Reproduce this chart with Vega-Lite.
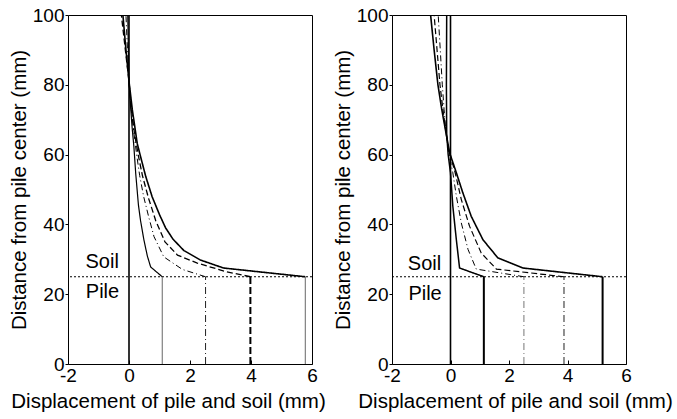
{
  "$schema": "https://vega.github.io/schema/vega-lite/v6.json",
  "autosize": {"type": "pad"},
  "padding": {"left": 8, "top": 5, "right": 0, "bottom": 0},
  "background": "white",
  "bounds": "flush",
  "spacing": 80,
  "datasets": {
    "curves": [
      {"panel": "a", "load": "L0", "part": "pile", "x": 0, "y": 0},
      {"panel": "a", "load": "L0", "part": "pile", "x": 0, "y": 100},

      {"panel": "a", "load": "L1", "part": "pile", "x": 1.09, "y": 0},
      {"panel": "a", "load": "L1", "part": "pile", "x": 1.09, "y": 25},
      {"panel": "a", "load": "L1", "part": "soil", "x": 1.09, "y": 25},
      {"panel": "a", "load": "L1", "part": "soil", "x": 0.71, "y": 27.8},
      {"panel": "a", "load": "L1", "part": "soil", "x": 0.6, "y": 31},
      {"panel": "a", "load": "L1", "part": "soil", "x": 0.49, "y": 35.5},
      {"panel": "a", "load": "L1", "part": "soil", "x": 0.38, "y": 41},
      {"panel": "a", "load": "L1", "part": "soil", "x": 0.31, "y": 45.5},
      {"panel": "a", "load": "L1", "part": "soil", "x": 0.22, "y": 54.6},
      {"panel": "a", "load": "L1", "part": "soil", "x": 0.16, "y": 62.3},
      {"panel": "a", "load": "L1", "part": "soil", "x": 0.1, "y": 68},
      {"panel": "a", "load": "L1", "part": "soil", "x": 0.05, "y": 74},
      {"panel": "a", "load": "L1", "part": "soil", "x": 0, "y": 81},
      {"panel": "a", "load": "L1", "part": "soil", "x": -0.02, "y": 90},
      {"panel": "a", "load": "L1", "part": "soil", "x": -0.04, "y": 100},

      {"panel": "a", "load": "L2", "part": "pile", "x": 2.51, "y": 0},
      {"panel": "a", "load": "L2", "part": "pile", "x": 2.51, "y": 25},
      {"panel": "a", "load": "L2", "part": "soil", "x": 2.51, "y": 25},
      {"panel": "a", "load": "L2", "part": "soil", "x": 1.75, "y": 27.1},
      {"panel": "a", "load": "L2", "part": "soil", "x": 1.14, "y": 30.7},
      {"panel": "a", "load": "L2", "part": "soil", "x": 0.82, "y": 36.5},
      {"panel": "a", "load": "L2", "part": "soil", "x": 0.65, "y": 42},
      {"panel": "a", "load": "L2", "part": "soil", "x": 0.48, "y": 48},
      {"panel": "a", "load": "L2", "part": "soil", "x": 0.35, "y": 54},
      {"panel": "a", "load": "L2", "part": "soil", "x": 0.25, "y": 60},
      {"panel": "a", "load": "L2", "part": "soil", "x": 0.15, "y": 67},
      {"panel": "a", "load": "L2", "part": "soil", "x": 0.06, "y": 74},
      {"panel": "a", "load": "L2", "part": "soil", "x": 0, "y": 81},
      {"panel": "a", "load": "L2", "part": "soil", "x": -0.05, "y": 90},
      {"panel": "a", "load": "L2", "part": "soil", "x": -0.1, "y": 100},

      {"panel": "a", "load": "L3", "part": "pile", "x": 3.98, "y": 0},
      {"panel": "a", "load": "L3", "part": "pile", "x": 3.98, "y": 25},
      {"panel": "a", "load": "L3", "part": "soil", "x": 3.98, "y": 25},
      {"panel": "a", "load": "L3", "part": "soil", "x": 3.17, "y": 26.5},
      {"panel": "a", "load": "L3", "part": "soil", "x": 2.24, "y": 28.9},
      {"panel": "a", "load": "L3", "part": "soil", "x": 1.59, "y": 31.2},
      {"panel": "a", "load": "L3", "part": "soil", "x": 1.18, "y": 35},
      {"panel": "a", "load": "L3", "part": "soil", "x": 0.88, "y": 41},
      {"panel": "a", "load": "L3", "part": "soil", "x": 0.64, "y": 47.5},
      {"panel": "a", "load": "L3", "part": "soil", "x": 0.44, "y": 54},
      {"panel": "a", "load": "L3", "part": "soil", "x": 0.3, "y": 60},
      {"panel": "a", "load": "L3", "part": "soil", "x": 0.18, "y": 66},
      {"panel": "a", "load": "L3", "part": "soil", "x": 0.08, "y": 73},
      {"panel": "a", "load": "L3", "part": "soil", "x": 0, "y": 81},
      {"panel": "a", "load": "L3", "part": "soil", "x": -0.12, "y": 90},
      {"panel": "a", "load": "L3", "part": "soil", "x": -0.25, "y": 100},

      {"panel": "a", "load": "L4", "part": "pile", "x": 5.78, "y": 0},
      {"panel": "a", "load": "L4", "part": "pile", "x": 5.78, "y": 25},
      {"panel": "a", "load": "L4", "part": "soil", "x": 5.78, "y": 25},
      {"panel": "a", "load": "L4", "part": "soil", "x": 3.1, "y": 27.5},
      {"panel": "a", "load": "L4", "part": "soil", "x": 2.34, "y": 29.8},
      {"panel": "a", "load": "L4", "part": "soil", "x": 1.8, "y": 32.5},
      {"panel": "a", "load": "L4", "part": "soil", "x": 1.44, "y": 35.8},
      {"panel": "a", "load": "L4", "part": "soil", "x": 1.2, "y": 39},
      {"panel": "a", "load": "L4", "part": "soil", "x": 1.0, "y": 42.8},
      {"panel": "a", "load": "L4", "part": "soil", "x": 0.76, "y": 47.9},
      {"panel": "a", "load": "L4", "part": "soil", "x": 0.55, "y": 53.7},
      {"panel": "a", "load": "L4", "part": "soil", "x": 0.38, "y": 59.4},
      {"panel": "a", "load": "L4", "part": "soil", "x": 0.27, "y": 63.2},
      {"panel": "a", "load": "L4", "part": "soil", "x": 0.11, "y": 72.8},
      {"panel": "a", "load": "L4", "part": "soil", "x": 0, "y": 81},
      {"panel": "a", "load": "L4", "part": "soil", "x": -0.1, "y": 90},
      {"panel": "a", "load": "L4", "part": "soil", "x": -0.2, "y": 100},

      {"panel": "b", "load": "L0", "part": "pile", "x": 0, "y": 0},
      {"panel": "b", "load": "L0", "part": "pile", "x": 0, "y": 100},

      {"panel": "b", "load": "L1", "part": "pile", "x": 1.14, "y": 0},
      {"panel": "b", "load": "L1", "part": "pile", "x": 1.14, "y": 25},
      {"panel": "b", "load": "L1", "part": "soil", "x": 1.14, "y": 25},
      {"panel": "b", "load": "L1", "part": "soil", "x": 0.31, "y": 27.5},
      {"panel": "b", "load": "L1", "part": "soil", "x": 0.2, "y": 35.6},
      {"panel": "b", "load": "L1", "part": "soil", "x": 0.08, "y": 45.2},
      {"panel": "b", "load": "L1", "part": "soil", "x": 0, "y": 54.8},
      {"panel": "b", "load": "L1", "part": "soil", "x": -0.08, "y": 60},
      {"panel": "b", "load": "L1", "part": "soil", "x": -0.13, "y": 66},
      {"panel": "b", "load": "L1", "part": "soil", "x": -0.14, "y": 80},
      {"panel": "b", "load": "L1", "part": "soil", "x": -0.13, "y": 100},

      {"panel": "b", "load": "L2", "part": "pile", "x": 2.51, "y": 0},
      {"panel": "b", "load": "L2", "part": "pile", "x": 2.51, "y": 25},
      {"panel": "b", "load": "L2", "part": "soil", "x": 2.51, "y": 25},
      {"panel": "b", "load": "L2", "part": "soil", "x": 0.88, "y": 27.2},
      {"panel": "b", "load": "L2", "part": "soil", "x": 0.6, "y": 32.8},
      {"panel": "b", "load": "L2", "part": "soil", "x": 0.37, "y": 40.4},
      {"panel": "b", "load": "L2", "part": "soil", "x": 0.2, "y": 48.1},
      {"panel": "b", "load": "L2", "part": "soil", "x": 0.08, "y": 54.8},
      {"panel": "b", "load": "L2", "part": "soil", "x": -0.05, "y": 60},
      {"panel": "b", "load": "L2", "part": "soil", "x": -0.15, "y": 66},
      {"panel": "b", "load": "L2", "part": "soil", "x": -0.22, "y": 73},
      {"panel": "b", "load": "L2", "part": "soil", "x": -0.28, "y": 80},
      {"panel": "b", "load": "L2", "part": "soil", "x": -0.35, "y": 90},
      {"panel": "b", "load": "L2", "part": "soil", "x": -0.42, "y": 100},

      {"panel": "b", "load": "L3", "part": "pile", "x": 3.88, "y": 0},
      {"panel": "b", "load": "L3", "part": "pile", "x": 3.88, "y": 25},
      {"panel": "b", "load": "L3", "part": "soil", "x": 3.88, "y": 25},
      {"panel": "b", "load": "L3", "part": "soil", "x": 1.57, "y": 27.2},
      {"panel": "b", "load": "L3", "part": "soil", "x": 1.05, "y": 31.8},
      {"panel": "b", "load": "L3", "part": "soil", "x": 0.65, "y": 39.5},
      {"panel": "b", "load": "L3", "part": "soil", "x": 0.37, "y": 47.1},
      {"panel": "b", "load": "L3", "part": "soil", "x": 0.16, "y": 54.8},
      {"panel": "b", "load": "L3", "part": "soil", "x": -0.05, "y": 61},
      {"panel": "b", "load": "L3", "part": "soil", "x": -0.15, "y": 66},
      {"panel": "b", "load": "L3", "part": "soil", "x": -0.26, "y": 73},
      {"panel": "b", "load": "L3", "part": "soil", "x": -0.36, "y": 80},
      {"panel": "b", "load": "L3", "part": "soil", "x": -0.46, "y": 90},
      {"panel": "b", "load": "L3", "part": "soil", "x": -0.56, "y": 100},

      {"panel": "b", "load": "L4", "part": "pile", "x": 5.2, "y": 0},
      {"panel": "b", "load": "L4", "part": "pile", "x": 5.2, "y": 25},
      {"panel": "b", "load": "L4", "part": "soil", "x": 5.2, "y": 25},
      {"panel": "b", "load": "L4", "part": "soil", "x": 2.48, "y": 27.5},
      {"panel": "b", "load": "L4", "part": "soil", "x": 1.62, "y": 30.4},
      {"panel": "b", "load": "L4", "part": "soil", "x": 1.11, "y": 35.6},
      {"panel": "b", "load": "L4", "part": "soil", "x": 0.71, "y": 42.3},
      {"panel": "b", "load": "L4", "part": "soil", "x": 0.42, "y": 49.1},
      {"panel": "b", "load": "L4", "part": "soil", "x": 0.2, "y": 54.8},
      {"panel": "b", "load": "L4", "part": "soil", "x": -0.03, "y": 60.5},
      {"panel": "b", "load": "L4", "part": "soil", "x": -0.15, "y": 66},
      {"panel": "b", "load": "L4", "part": "soil", "x": -0.3, "y": 73},
      {"panel": "b", "load": "L4", "part": "soil", "x": -0.43, "y": 80},
      {"panel": "b", "load": "L4", "part": "soil", "x": -0.56, "y": 90},
      {"panel": "b", "load": "L4", "part": "soil", "x": -0.68, "y": 100}
    ],
    "notes": [
      {"panel": "a", "label": "Soil", "x": -0.88, "y": 29.1},
      {"panel": "a", "label": "Pile", "x": -0.87, "y": 20.5},
      {"panel": "b", "label": "Soil", "x": -0.89, "y": 28.7},
      {"panel": "b", "label": "Pile", "x": -0.87, "y": 20.1}
    ],
    "interface": [
      {"y": 25}
    ]
  },
  "hconcat": [
    {
      "width": 244,
      "height": 349,
      "layer": [
        {
          "data": {"name": "interface"},
          "mark": {"type": "rule", "color": "black", "strokeWidth": 1, "strokeDash": [2, 2]},
          "encoding": {
            "y": {"field": "y", "type": "quantitative"}
          }
        },
        {
          "data": {"name": "curves"},
          "transform": [{"filter": "datum.panel === 'a' && datum.load === 'L0'"}],
          "mark": {"type": "line", "color": "black", "strokeWidth": 1.6},
          "encoding": {
            "x": {"field": "x", "type": "quantitative"},
            "y": {"field": "y", "type": "quantitative"},
            "order": {"field": "y", "type": "quantitative"}
          }
        },
        {
          "data": {"name": "curves"},
          "transform": [{"filter": "datum.panel === 'a' && datum.part === 'pile' && datum.load !== 'L0'"}],
          "mark": {"type": "line"},
          "encoding": {
            "x": {"field": "x", "type": "quantitative"},
            "y": {"field": "y", "type": "quantitative"},
            "detail": {"field": "load"},
            "order": {"field": "y", "type": "quantitative"},
            "color": {"field": "load", "type": "nominal", "legend": null,
              "scale": {"domain": ["L1", "L2", "L3", "L4"], "range": ["#666666", "#222222", "black", "#666666"]}},
            "strokeDash": {"field": "load", "type": "nominal", "legend": null,
              "scale": {"domain": ["L1", "L2", "L3", "L4"], "range": [[1, 0], [7, 3, 1, 3], [7, 3], [1, 0]]}},
            "strokeWidth": {"field": "load", "type": "nominal", "legend": null,
              "scale": {"type": "ordinal", "domain": ["L1", "L2", "L3", "L4"], "range": [1, 1, 2, 1]}}
          }
        },
        {
          "data": {"name": "curves"},
          "transform": [{"filter": "datum.panel === 'a' && datum.part === 'soil'"}],
          "mark": {"type": "line", "color": "black"},
          "encoding": {
            "x": {"field": "x", "type": "quantitative"},
            "y": {"field": "y", "type": "quantitative"},
            "detail": {"field": "load"},
            "order": {"field": "y", "type": "quantitative"},
            "strokeDash": {"field": "load", "type": "nominal", "legend": null,
              "scale": {"domain": ["L1", "L2", "L3", "L4"], "range": [[1, 0], [6, 3, 1, 3], [6, 3], [1, 0]]}},
            "strokeWidth": {"field": "load", "type": "nominal", "legend": null,
              "scale": {"type": "ordinal", "domain": ["L1", "L2", "L3", "L4"], "range": [1.2, 1, 1.3, 1.6]}}
          }
        },
        {
          "data": {"name": "notes"},
          "transform": [{"filter": "datum.panel === 'a'"}],
          "mark": {"type": "text", "fontSize": 20, "color": "black", "align": "center", "baseline": "middle", "font": "Liberation Sans"},
          "encoding": {
            "x": {"field": "x", "type": "quantitative"},
            "y": {"field": "y", "type": "quantitative"},
            "text": {"field": "label"}
          }
        }
      ],
      "encoding": {
        "x": {
          "type": "quantitative",
          "scale": {"domain": [-2, 6], "nice": false, "zero": false},
          "axis": {"title": "Displacement of pile and soil (mm)", "values": [-2, 0, 2, 4, 6], "titleX": 100}
        },
        "y": {
          "type": "quantitative",
          "scale": {"domain": [0, 100], "nice": false},
          "axis": {"title": "Distance from pile center (mm)", "values": [0, 20, 40, 60, 80, 100]}
        }
      },
      "resolve": {"scale": {"color": "independent", "strokeDash": "independent", "strokeWidth": "independent"}}
    },
    {
      "width": 234,
      "height": 349,
      "layer": [
        {
          "data": {"name": "interface"},
          "mark": {"type": "rule", "color": "black", "strokeWidth": 1, "strokeDash": [2, 2]},
          "encoding": {
            "y": {"field": "y", "type": "quantitative"}
          }
        },
        {
          "data": {"name": "curves"},
          "transform": [{"filter": "datum.panel === 'b' && datum.load === 'L0'"}],
          "mark": {"type": "line", "color": "black", "strokeWidth": 1.6},
          "encoding": {
            "x": {"field": "x", "type": "quantitative"},
            "y": {"field": "y", "type": "quantitative"},
            "order": {"field": "y", "type": "quantitative"}
          }
        },
        {
          "data": {"name": "curves"},
          "transform": [{"filter": "datum.panel === 'b' && datum.part === 'pile' && datum.load !== 'L0'"}],
          "mark": {"type": "line"},
          "encoding": {
            "x": {"field": "x", "type": "quantitative"},
            "y": {"field": "y", "type": "quantitative"},
            "detail": {"field": "load"},
            "order": {"field": "y", "type": "quantitative"},
            "color": {"field": "load", "type": "nominal", "legend": null,
              "scale": {"domain": ["L1", "L2", "L3", "L4"], "range": ["black", "#777777", "#222222", "black"]}},
            "strokeDash": {"field": "load", "type": "nominal", "legend": null,
              "scale": {"domain": ["L1", "L2", "L3", "L4"], "range": [[1, 0], [7, 3, 1, 3], [7, 3, 1, 3], [1, 0]]}},
            "strokeWidth": {"field": "load", "type": "nominal", "legend": null,
              "scale": {"type": "ordinal", "domain": ["L1", "L2", "L3", "L4"], "range": [2, 1, 1, 2]}}
          }
        },
        {
          "data": {"name": "curves"},
          "transform": [{"filter": "datum.panel === 'b' && datum.part === 'soil'"}],
          "mark": {"type": "line", "color": "black"},
          "encoding": {
            "x": {"field": "x", "type": "quantitative"},
            "y": {"field": "y", "type": "quantitative"},
            "detail": {"field": "load"},
            "order": {"field": "y", "type": "quantitative"},
            "strokeDash": {"field": "load", "type": "nominal", "legend": null,
              "scale": {"domain": ["L1", "L2", "L3", "L4"], "range": [[1, 0], [6, 3, 1, 3], [6, 3], [1, 0]]}},
            "strokeWidth": {"field": "load", "type": "nominal", "legend": null,
              "scale": {"type": "ordinal", "domain": ["L1", "L2", "L3", "L4"], "range": [1.5, 1, 1.2, 1.6]}}
          }
        },
        {
          "data": {"name": "notes"},
          "transform": [{"filter": "datum.panel === 'b'"}],
          "mark": {"type": "text", "fontSize": 20, "color": "black", "align": "center", "baseline": "middle", "font": "Liberation Sans"},
          "encoding": {
            "x": {"field": "x", "type": "quantitative"},
            "y": {"field": "y", "type": "quantitative"},
            "text": {"field": "label"}
          }
        }
      ],
      "encoding": {
        "x": {
          "type": "quantitative",
          "scale": {"domain": [-2, 6], "nice": false, "zero": false},
          "axis": {"title": "Displacement of pile and soil (mm)", "values": [-2, 0, 2, 4, 6], "titleX": 123}
        },
        "y": {
          "type": "quantitative",
          "scale": {"domain": [0, 100], "nice": false},
          "axis": {"title": "Distance from pile center (mm)", "values": [0, 20, 40, 60, 80, 100]}
        }
      },
      "resolve": {"scale": {"color": "independent", "strokeDash": "independent", "strokeWidth": "independent"}}
    }
  ],
  "resolve": {"scale": {"x": "independent", "y": "independent", "color": "independent", "strokeDash": "independent", "strokeWidth": "independent"}},
  "config": {
    "font": "Liberation Sans",
    "view": {"stroke": "black", "strokeWidth": 1, "fill": "white"},
    "axis": {
      "grid": false,
      "domain": false,
      "labelFont": "Liberation Sans",
      "titleFont": "Liberation Sans",
      "labelFontSize": 19,
      "titleFontSize": 20.5,
      "titleFontWeight": "normal",
      "labelColor": "black",
      "titleColor": "black",
      "tickColor": "black",
      "labelFlush": false,
      "labelOverlap": false,
      "labelExpr": "'' + datum.value"
    },
    "axisX": {"tickSize": -4, "labelPadding": 6, "titlePadding": 6},
    "axisY": {"tickSize": 3, "labelPadding": 1, "titlePadding": 3}
  }
}
